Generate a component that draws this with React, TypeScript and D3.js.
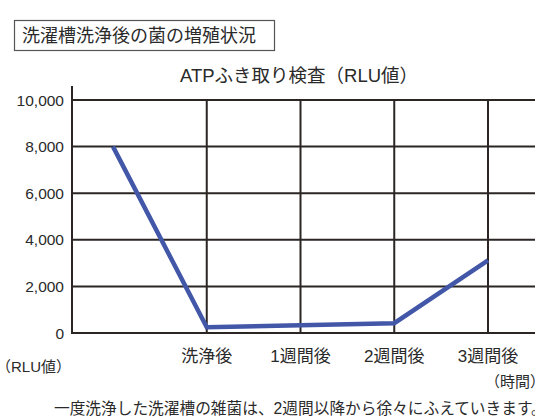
import { useEffect, useRef } from "react";
import * as d3 from "d3";

// data
const periods = ["", "洗浄後", "1週間後", "2週間後", "3週間後"];
const rluValues = [8000, 250, 330, 420, 3120];
const yTicks = [0, 2000, 4000, 6000, 8000, 10000];

const boxTitle = "洗濯槽洗浄後の菌の増殖状況";
const chartTitle = "ATPふき取り検査（RLU値）";
const yUnit = "（RLU値）";
const xUnit = "（時間）";
const footnote = "一度洗浄した洗濯槽の雑菌は、2週間以降から徐々にふえていきます。";

const FONT = "'Liberation Sans', 'Noto Sans CJK JP', sans-serif";
const INK = "#2a2a2a";

export default function App() {
  const svgRef = useRef<SVGSVGElement>(null);

  useEffect(() => {
    const svgEl = svgRef.current;
    if (!svgEl) return;
    const width = 535;
    const height = 420;

    const svg = d3.select(svgEl);
    svg.selectAll("*").remove();
    svg.attr("viewBox", `0 0 ${width} ${height}`);

    const left = 72;
    const right = width;
    const x = d3.scaleLinear().domain([0, periods.length - 1]).range([113, 488]);
    const y = d3.scaleLinear().domain([0, 10000]).range([333, 100]);

    // boxed heading
    svg
      .append("rect")
      .attr("x", 14.5)
      .attr("y", 20.5)
      .attr("width", 260)
      .attr("height", 30)
      .attr("fill", "none")
      .attr("stroke", "#555")
      .attr("stroke-width", 1.2);
    svg
      .append("text")
      .attr("x", 22)
      .attr("y", 42)
      .attr("font-family", FONT)
      .attr("font-size", 18)
      .attr("fill", INK)
      .text(boxTitle);

    svg
      .append("text")
      .attr("x", 299)
      .attr("y", 82)
      .attr("text-anchor", "middle")
      .attr("font-family", FONT)
      .attr("font-size", 18.5)
      .attr("fill", INK)
      .text(chartTitle);

    const grid = svg.append("g").attr("stroke", "#2b2624").attr("stroke-width", 2);

    // horizontal grid
    grid
      .selectAll("line.h")
      .data(yTicks)
      .join("line")
      .attr("class", "h")
      .attr("x1", left)
      .attr("x2", right)
      .attr("y1", (d) => y(d))
      .attr("y2", (d) => y(d));

    // vertical grid at labelled periods
    grid
      .selectAll("line.v")
      .data(periods.map((p, i) => ({ p, i })).filter((d) => d.p !== ""))
      .join("line")
      .attr("class", "v")
      .attr("x1", (d) => x(d.i))
      .attr("x2", (d) => x(d.i))
      .attr("y1", y(10000))
      .attr("y2", y(0));

    // y axis line
    grid
      .append("line")
      .attr("x1", left)
      .attr("x2", left)
      .attr("y1", 86)
      .attr("y2", y(0) + 1);

    svg
      .append("g")
      .selectAll("text")
      .data(yTicks)
      .join("text")
      .attr("x", 64)
      .attr("y", (d) => y(d) + 5.5)
      .attr("text-anchor", "end")
      .attr("font-family", FONT)
      .attr("font-size", 15.5)
      .attr("fill", INK)
      .text((d) => d3.format(",")(d));

    svg
      .append("g")
      .selectAll("text")
      .data(periods.map((p, i) => ({ p, i })).filter((d) => d.p !== ""))
      .join("text")
      .attr("x", (d) => x(d.i))
      .attr("y", 362)
      .attr("text-anchor", "middle")
      .attr("font-family", FONT)
      .attr("font-size", 17)
      .attr("fill", INK)
      .text((d) => d.p);

    svg
      .append("text")
      .attr("x", -4)
      .attr("y", 372)
      .attr("font-family", FONT)
      .attr("font-size", 15)
      .attr("fill", INK)
      .text(yUnit);

    svg
      .append("text")
      .attr("x", 485)
      .attr("y", 387)
      .attr("font-family", FONT)
      .attr("font-size", 15)
      .attr("fill", INK)
      .text(xUnit);

    svg
      .append("text")
      .attr("x", 54)
      .attr("y", 414)
      .attr("font-family", FONT)
      .attr("font-size", 15.7)
      .attr("fill", INK)
      .text(footnote);

    const line = d3
      .line<number>()
      .x((_, i) => x(i))
      .y((d) => y(d));

    svg
      .append("path")
      .datum(rluValues)
      .attr("fill", "none")
      .attr("stroke", "#4257a8")
      .attr("stroke-width", 4.5)
      .attr("stroke-linejoin", "miter")
      .attr("d", line);
  }, []);

  return (
    <svg
      ref={svgRef}
      width={535}
      height={420}
      style={{ position: "absolute", left: 0, top: 0, display: "block", background: "#fff" }}
    />
  );
}
